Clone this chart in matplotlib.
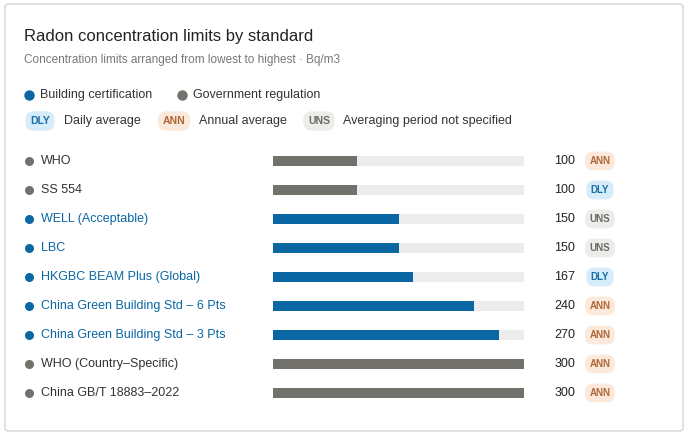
import matplotlib.pyplot as plt
from matplotlib.patches import FancyBboxPatch
from matplotlib.lines import Line2D

plt.rcParams['font.family'] = ['Liberation Sans', 'DejaVu Sans']

names = ["WHO", "SS 554", "WELL (Acceptable)", "LBC", "HKGBC BEAM Plus (Global)",
         "China Green Building Std – 6 Pts", "China Green Building Std – 3 Pts",
         "WHO (Country–Specific)", "China GB/T 18883–2022"]
values = [100, 100, 150, 150, 167, 240, 270, 300, 300]
kinds = ["gov", "gov", "cert", "cert", "cert", "cert", "cert", "gov", "gov"]
periods = ["ANN", "DLY", "UNS", "UNS", "DLY", "ANN", "ANN", "ANN", "ANN"]
vmax = 300

kind_color = {"cert": "#0b67a3", "gov": "#72716c"}
badge = {"DLY": ("#d6ecfb", "#1b6fa8"), "ANN": ("#fbe9dc", "#b0683a"), "UNS": ("#ececea", "#6b6b66")}

W, H = 688, 436
fig = plt.figure(figsize=(W / 100, H / 100), dpi=100)

def fx(px):
    return px / W

def fy(py):
    return 1 - py / H

card = FancyBboxPatch((fx(5), fy(431)), fx(678), 427 / H, boxstyle="round,pad=0,rounding_size=0.006",
                      transform=fig.transFigure, fc="white", ec="#d4d4d4", lw=1, zorder=-5)
fig.patches.append(card)
fig.text(fx(24), fy(36), "Radon concentration limits by standard", fontsize=12, color="#222222", va="center")
fig.text(fx(24), fy(60), "Concentration limits arranged from lowest to highest · Bq/m3", fontsize=8.5, color="#777777", va="center")

def dot(x, y, c, size=7):
    fig.add_artist(Line2D([fx(x)], [fy(y)], marker="o", ms=size, color=c, mec="none",
                          transform=fig.transFigure))

def badge_text(x, y, t, size=7.5):
    bg, fg = badge[t]
    fig.text(fx(x), fy(y), t, fontsize=size, color=fg, fontweight="bold", va="center", ha="center",
             bbox=dict(boxstyle="round,pad=0.45,rounding_size=0.8", fc=bg, ec="none"))

# legend rows
dot(29, 95, kind_color["cert"], 7.5)
fig.text(fx(40), fy(95), "Building certification", fontsize=9, color="#333333", va="center")
dot(182, 95, kind_color["gov"], 7.5)
fig.text(fx(193), fy(95), "Government regulation", fontsize=9, color="#333333", va="center")
for t, x, lab, lx in [("DLY", 40, "Daily average", 64), ("ANN", 174, "Annual average", 199),
                      ("UNS", 319, "Averaging period not specified", 343)]:
    badge_text(x, 121, t)
    fig.text(fx(lx), fy(121), lab, fontsize=9, color="#333333", va="center")

y0, dy = 161, 29
n = len(names)
ax = fig.add_axes([fx(273), fy(y0 + dy * (n - 0.5)), fx(251), dy * n / H])
ys = list(range(n))
ax.barh(ys, [vmax] * n, height=0.34, color="#ececec")
ax.barh(ys, values, height=0.34, color=[kind_color[k] for k in kinds])
ax.set_xlim(0, vmax)
ax.set_ylim(n - 0.5, -0.5)
ax.axis("off")

for i, (nm, v, k, p) in enumerate(zip(names, values, kinds, periods)):
    y = y0 + dy * i
    c = kind_color[k]
    dot(29, y, c, 6.5)
    fig.text(fx(41), fy(y), nm, fontsize=9, color=c if k == "cert" else "#333333", va="center")
    fig.text(fx(575), fy(y), str(v), fontsize=9, color="#222222", va="center", ha="right")
    badge_text(600, y, p, size=7)

fig.savefig("out.png", dpi=100)
